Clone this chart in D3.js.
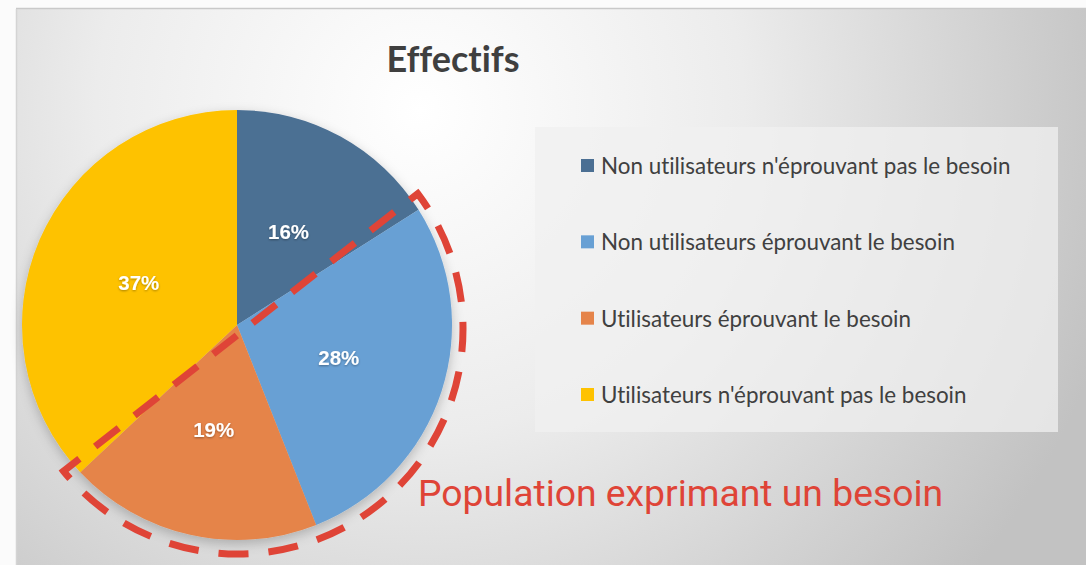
<!DOCTYPE html>
<html>
<head>
<meta charset="utf-8">
<script src="https://cdn.jsdelivr.net/npm/d3@7"></script>
<style>
  body { margin: 0; background: #fafafa; }
  svg { display: block; }
  text { font-variant-ligatures: none; }
</style>
</head>
<body>
<svg width="1086" height="565"></svg>
<script>
// data
const categories = [
  "Non utilisateurs n'éprouvant pas le besoin",
  "Non utilisateurs éprouvant le besoin",
  "Utilisateurs éprouvant le besoin",
  "Utilisateurs n'éprouvant pas le besoin"
];
const values = [16, 28, 19, 37];
const colors = ["#4b6f93", "#68a0d4", "#e5844a", "#fec200"];
const title = "Effectifs";
const annotation = "Population exprimant un besoin";
// the annotated group = slices 1 and 2
const highlighted = [1, 2];

const svg = d3.select("svg"),
  width = 1086,
  height = 565;

const defs = svg.append("defs");
const bg = defs.append("radialGradient")
  .attr("id", "bg")
  .attr("gradientUnits", "userSpaceOnUse")
  .attr("cx", 420).attr("cy", 110).attr("r", 720);
bg.append("stop").attr("offset", "0").attr("stop-color", "#ffffff");
bg.append("stop").attr("offset", "0.45").attr("stop-color", "#ececec");
bg.append("stop").attr("offset", "1").attr("stop-color", "#c2c2c2");

const shadow = defs.append("filter").attr("id", "shadow")
  .attr("x", "-20%").attr("y", "-20%").attr("width", "140%").attr("height", "140%");
shadow.append("feDropShadow")
  .attr("dx", 0).attr("dy", 4).attr("stdDeviation", 6)
  .attr("flood-color", "#000").attr("flood-opacity", 0.22);

const txtShadow = defs.append("filter").attr("id", "tshadow");
txtShadow.append("feDropShadow")
  .attr("dx", 0).attr("dy", 1).attr("stdDeviation", 0.8)
  .attr("flood-color", "#000").attr("flood-opacity", 0.35);

// page + chart panel
svg.append("rect").attr("width", width).attr("height", height).attr("fill", "#fbfbfb");
svg.append("rect")
  .attr("x", 16).attr("y", 9)
  .attr("width", width - 16).attr("height", height - 9)
  .attr("fill", "url(#bg)");
svg.append("line").attr("x1", 16).attr("x2", width).attr("y1", 8.5).attr("y2", 8.5)
  .attr("stroke", "#c9c9c9").attr("stroke-width", 1.5);
svg.append("line").attr("x1", 16.5).attr("x2", 16.5).attr("y1", 9).attr("y2", height)
  .attr("stroke", "#d4d4d4").attr("stroke-width", 1.5);

// title
svg.append("text")
  .attr("x", 453).attr("y", 72)
  .attr("text-anchor", "middle")
  .style("font-family", "Lato, 'Open Sans', sans-serif")
  .style("font-weight", "bold")
  .style("font-size", "36px")
  .style("fill", "#3f3f3f")
  .text(title);

// pie
const cx = 237, cy = 325, radius = 215;
const pie = d3.pie().sort(null).value(d => d);
const arcs = pie(values);
const arc = d3.arc().innerRadius(0).outerRadius(radius);
const labelArc = d3.arc().innerRadius(107).outerRadius(107);

const gPie = svg.append("g").attr("transform", `translate(${cx},${cy})`);
gPie.append("g").attr("filter", "url(#shadow)")
  .selectAll("path")
  .data(arcs)
  .enter()
  .append("path")
    .attr("d", arc)
    .attr("fill", (d, i) => colors[i]);

gPie.selectAll("text.pct")
  .data(arcs)
  .enter()
  .append("text")
    .attr("class", "pct")
    .attr("transform", d => `translate(${labelArc.centroid(d)})`)
    .attr("text-anchor", "middle")
    .attr("dy", "0.36em")
    .attr("filter", "url(#tshadow)")
    .style("font-family", "'Liberation Sans', Arial, sans-serif")
    .style("font-weight", "bold")
    .style("font-size", "20.5px")
    .style("fill", "#ffffff")
    .text(d => d.data + "%");

// dashed annotation around the highlighted slices (hand drawn, a bit off-centre)
const hl = arcs.filter((d, i) => highlighted.includes(i));
const a0 = hl[0].startAngle - 0.08, a1 = hl[hl.length - 1].endAngle + 0.07;
const annR = 225;
const p = d3.path();
p.moveTo(annR * Math.sin(a0), -annR * Math.cos(a0));
p.arc(0, 0, annR, a0 - Math.PI / 2, a1 - Math.PI / 2, false);
p.closePath();
gPie.append("path")
  .attr("transform", "translate(1,4)")
  .attr("d", p.toString())
  .attr("fill", "none")
  .attr("stroke", "#df4437")
  .attr("stroke-width", 7)
  .attr("stroke-dasharray", "30 20")
  .attr("stroke-dashoffset", 12)
  .attr("stroke-linejoin", "miter");

svg.append("text")
  .attr("x", 418).attr("y", 506)
  .style("font-family", "Roboto, sans-serif")
  .style("font-size", "37.3px")
  .style("fill", "#df4437")
  .text(annotation);

// legend
const legend = svg.append("g");
legend.append("rect")
  .attr("x", 535).attr("y", 127)
  .attr("width", 523).attr("height", 305)
  .attr("fill", "#f0f0f0").attr("fill-opacity", 0.75);

const legendY = d3.scalePoint().domain(categories).range([166, 395]);
const items = legend.selectAll("g.item")
  .data(categories)
  .enter()
  .append("g")
    .attr("class", "item")
    .attr("transform", d => `translate(581,${legendY(d)})`);
items.append("rect")
  .attr("x", 0).attr("y", -7)
  .attr("width", 13).attr("height", 13)
  .attr("fill", (d, i) => colors[i]);
items.append("text")
  .attr("x", 20).attr("dy", "0.36em")
  .style("font-family", "Lato, 'Open Sans', sans-serif")
  .style("font-size", "22.4px")
  .style("fill", "#404040")
  .text(d => d);
</script>
</body>
</html>
